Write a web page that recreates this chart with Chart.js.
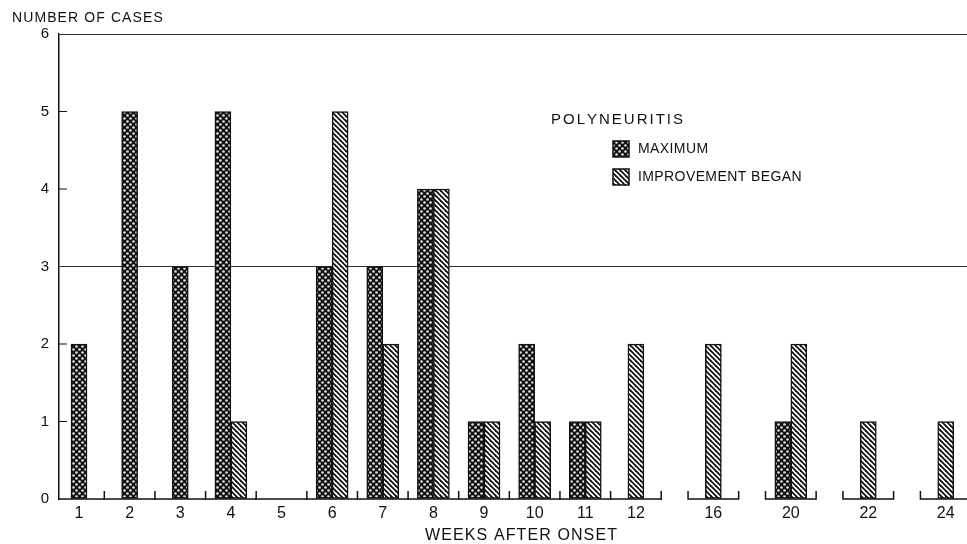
<!DOCTYPE html>
<html>
<head>
<meta charset="utf-8">
<script src="https://cdn.jsdelivr.net/npm/chart.js@4.4.1/dist/chart.umd.min.js"></script>
<style>
  html, body { margin: 0; padding: 0; background: #fff; }
  #wrap { width: 967px; height: 544px; position: relative; }
</style>
</head>
<body>
<div id="wrap"><canvas id="c" width="967" height="544"></canvas></div>
<script>
// Weeks after onset, and number of cases per week
const weekLabels = ['1', '2', '3', '4', '5', '6', '7', '8', '9', '10', '11', '12', '16', '20', '22', '24'];
const maximumCases = [2, 5, 3, 5, null, 3, 3, 4, 1, 2, 1, null, null, 1, null, null];
const improvementCases = [null, null, null, 1, null, 5, 2, 4, 1, 1, 1, 2, 2, 2, 1, 1];
const yTickValues = [0, 1, 2, 3, 4, 5, 6];

const FONT = "'Liberation Sans', Arial, sans-serif";
const INK = '#111';

// Weeks 1-12 sit one unit apart; the later, broken-out weeks are spaced wider.
const LATE_STEP = 1.53;
function slotOf(i) {
  return i < 12 ? i + 1 : 12 + LATE_STEP * (i - 11);
}

// Fill patterns: dark dotted screen and diagonal hatching
function makeDotPattern() {
  const t = document.createElement('canvas');
  t.width = 6; t.height = 6;
  const g = t.getContext('2d');
  g.fillStyle = '#111';
  g.fillRect(0, 0, 6, 6);
  g.fillStyle = '#e4e4e4';
  [[1.5, 1.5], [4.5, 4.5]].forEach(([cx, cy]) => {
    g.beginPath(); g.arc(cx, cy, 1.3, 0, Math.PI * 2); g.fill();
  });
  return g.createPattern(t, 'repeat');
}
function makeHatchPattern() {
  const s = 5;
  const t = document.createElement('canvas');
  t.width = s; t.height = s;
  const g = t.getContext('2d');
  g.fillStyle = '#fff';
  g.fillRect(0, 0, s, s);
  g.strokeStyle = '#111';
  g.lineWidth = 1.8;
  [-s, 0, s].forEach(k => {
    g.beginPath(); g.moveTo(k - 1, -1); g.lineTo(k + s + 1, s + 1); g.stroke();
  });
  return g.createPattern(t, 'repeat');
}
const dotPattern = makeDotPattern();
const hatchPattern = makeHatchPattern();

// Text with extra spacing between letters
function spacedText(ctx, text, x, y, spacing, align) {
  const chars = Array.from(text);
  const widths = chars.map(ch => ctx.measureText(ch).width);
  const total = widths.reduce((a, b) => a + b, 0) + spacing * (chars.length - 1);
  let cx = align === 'center' ? x - total / 2 : x;
  ctx.textAlign = 'left';
  chars.forEach((ch, i) => {
    ctx.fillText(ch, cx, y);
    cx += widths[i] + spacing;
  });
}

// Broken baseline with upward ticks, inner y ticks
const axisDecor = {
  id: 'axisDecor',
  afterDatasetsDraw(chart) {
    const { ctx, chartArea: a, scales: { x, y } } = chart;
    const base = y.getPixelForValue(0);
    const tickH = 8;
    ctx.save();
    ctx.strokeStyle = INK;
    ctx.lineWidth = 1.5;
    ctx.lineCap = 'butt';
    // continuous stretch, weeks 1-12
    ctx.beginPath();
    ctx.moveTo(a.left, base);
    ctx.lineTo(x.getPixelForValue(12.5), base);
    for (let k = 1; k <= 12; k++) {
      const px = x.getPixelForValue(k + 0.5);
      ctx.moveTo(px, base + 1);
      ctx.lineTo(px, base - tickH);
    }
    ctx.stroke();
    // bracketed later weeks
    for (let i = 12; i < weekLabels.length; i++) {
      const c = slotOf(i);
      const l = x.getPixelForValue(c - 0.5);
      const r = x.getPixelForValue(c + 0.5);
      ctx.beginPath();
      ctx.moveTo(l, base - tickH);
      ctx.lineTo(l, base);
      ctx.lineTo(r, base);
      ctx.lineTo(r, base - tickH);
      ctx.stroke();
    }
    // short ticks inside the y axis
    ctx.lineWidth = 1.2;
    ctx.beginPath();
    [1, 2, 4, 5].forEach(v => {
      const py = y.getPixelForValue(v);
      ctx.moveTo(a.left, py);
      ctx.lineTo(a.left + 8, py);
    });
    ctx.stroke();
    ctx.restore();
  }
};

// Titles and key
const labelsDecor = {
  id: 'labelsDecor',
  afterDraw(chart) {
    const { ctx } = chart;
    ctx.save();
    ctx.fillStyle = INK;
    ctx.textBaseline = 'middle';

    ctx.font = '14px ' + FONT;
    spacedText(ctx, 'NUMBER OF CASES', 12, 18, 1.1, 'left');

    ctx.font = '16px ' + FONT;
    spacedText(ctx, 'WEEKS AFTER ONSET', 521, 536, 1.1, 'center');

    // key
    ctx.font = '15px ' + FONT;
    spacedText(ctx, 'POLYNEURITIS', 551, 120, 2.0, 'left');
    ctx.font = '14px ' + FONT;
    const boxX = 613, boxW = 16, boxH = 16;
    const keyItems = [
      { text: 'MAXIMUM', fill: dotPattern, y: 141 },
      { text: 'IMPROVEMENT BEGAN', fill: hatchPattern, y: 169 }
    ];
    keyItems.forEach(it => {
      ctx.fillStyle = it.fill;
      ctx.fillRect(boxX, it.y, boxW, boxH);
      ctx.strokeStyle = INK;
      ctx.lineWidth = 1.5;
      ctx.strokeRect(boxX, it.y, boxW, boxH);
      ctx.fillStyle = INK;
      spacedText(ctx, it.text, 638, it.y + boxH / 2, 0.4, 'left');
    });
    ctx.restore();
  }
};

const barStyle = {
  borderColor: INK,
  borderWidth: 1.5,
  borderSkipped: false,
  barThickness: 16,
  skipNull: true
};

new Chart(document.getElementById('c').getContext('2d'), {
  type: 'bar',
  data: {
    datasets: [
      Object.assign({
        label: 'MAXIMUM',
        data: maximumCases.map((v, i) => ({ x: slotOf(i), y: v })),
        backgroundColor: dotPattern
      }, barStyle),
      Object.assign({
        label: 'IMPROVEMENT BEGAN',
        data: improvementCases.map((v, i) => ({ x: slotOf(i), y: v })),
        backgroundColor: hatchPattern
      }, barStyle)
    ]
  },
  options: {
    responsive: false,
    animation: false,
    devicePixelRatio: 1,
    layout: { padding: { top: 34, left: 0, right: 0, bottom: 0 } },
    plugins: { legend: { display: false }, tooltip: { enabled: false } },
    scales: {
      x: {
        type: 'linear',
        offset: false,
        min: 0.605,
        max: 18.54,
        grid: { display: false, drawTicks: false },
        border: { display: false },
        afterBuildTicks: s => { s.ticks = weekLabels.map((l, i) => ({ value: slotOf(i) })); },
        ticks: {
          autoSkip: false,
          maxRotation: 0,
          padding: 5,
          color: INK,
          font: { family: FONT, size: 16 },
          callback: (v, i) => weekLabels[i]
        },
        afterFit: s => { s.height = 45; }
      },
      y: {
        min: 0,
        max: 6,
        afterBuildTicks: s => { s.ticks = yTickValues.map(v => ({ value: v })); },
        ticks: {
          padding: 10,
          color: INK,
          font: { family: FONT, size: 15 }
        },
        grid: {
          drawTicks: false,
          lineWidth: 1,
          color: c => (c.tick && (c.tick.value === 3 || c.tick.value === 6)) ? '#333' : 'rgba(0,0,0,0)'
        },
        border: { color: INK, width: 1.5 },
        afterFit: s => { s.width = 59; }
      }
    }
  },
  plugins: [axisDecor, labelsDecor]
});
</script>
</body>
</html>
